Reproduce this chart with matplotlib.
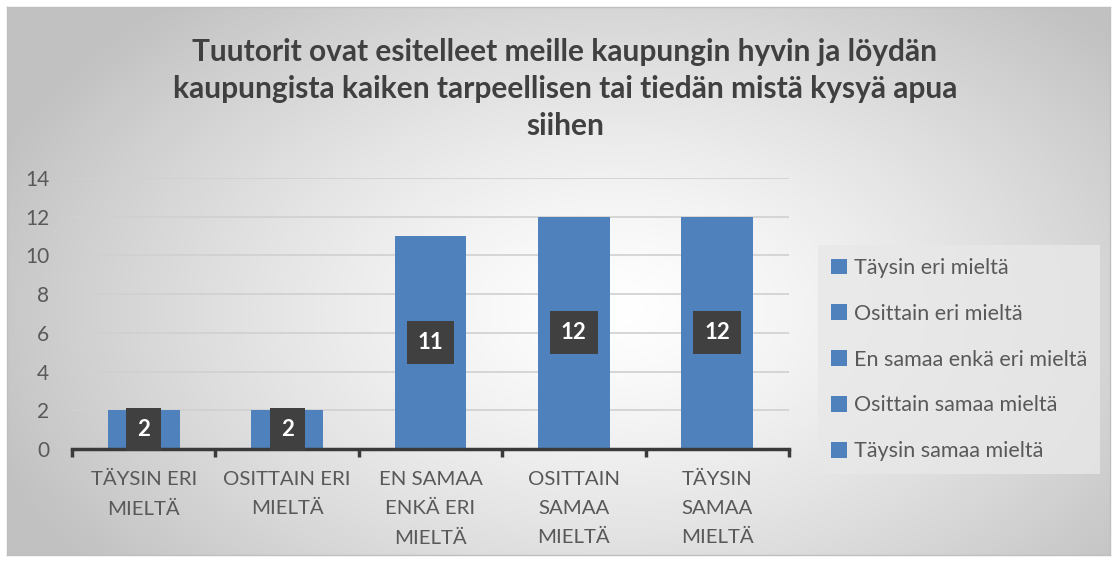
import numpy as np
import matplotlib.pyplot as plt
from matplotlib.patches import Patch

title = "Tuutorit ovat esitelleet meille kaupungin hyvin ja löydän\nkaupungista kaiken tarpeellisen tai tiedän mistä kysyä apua\nsiihen"
categories = ["TÄYSIN ERI\nMIELTÄ", "OSITTAIN ERI\nMIELTÄ", "EN SAMAA\nENKÄ ERI\nMIELTÄ",
              "OSITTAIN\nSAMAA\nMIELTÄ", "TÄYSIN\nSAMAA\nMIELTÄ"]
values = [2, 2, 11, 12, 12]
legend_labels = ["Täysin eri mieltä", "Osittain eri mieltä", "En samaa enkä eri mieltä",
                 "Osittain samaa mieltä", "Täysin samaa mieltä"]
yticks = [0, 2, 4, 6, 8, 10, 12, 14]

FONT = ["Lato", "DejaVu Sans"]
plt.rcParams['font.family'] = FONT
BAR = "#4F81BD"
TXT = "#595959"

W, H = 1118, 562
fig = plt.figure(figsize=(W / 100, H / 100), dpi=100)
fig.patch.set_facecolor("white")

# background radial gradient
bg = fig.add_axes([7 / W, 1 - 555 / H, (1110 - 7) / W, (555 - 7) / H])
ny, nx = 200, 400
yy, xx = np.mgrid[0:ny, 0:nx]
cx, cy = 0.55 * nx, 0.55 * ny
d = np.sqrt(((xx - cx) / (nx * 0.6)) ** 2 + ((yy - cy) / (ny * 0.75)) ** 2)
v = 1.0 - 0.24 * np.clip(d, 0, 1) ** 1.3
bg.imshow(np.dstack([v, v, v]), aspect="auto", extent=[0, 1, 0, 1], interpolation="bilinear")
bg.set_xticks([]); bg.set_yticks([])
for s in bg.spines.values():
    s.set_color("#bfbfbf"); s.set_linewidth(1)
bg.set_zorder(0)

ax = fig.add_axes([72 / W, 1 - 449 / H, (789 - 72) / W, (449 - 178) / H])
ax.set_zorder(1)
ax.patch.set_alpha(0)
x = np.arange(len(categories))
ax.bar(x, values, width=0.5, color=BAR, zorder=2)
ax.set_xlim(-0.5, len(categories) - 0.5)
ax.set_ylim(0, 14)
ax.set_yticks(yticks)
ax.set_yticklabels([str(t) for t in yticks], fontsize=15, color=TXT)
ax.yaxis.grid(True, color="#d0d0d0", linewidth=1.2, zorder=0)
ax.set_axisbelow(True)
ax.tick_params(axis="y", length=0, pad=16.5)
ax.set_xticks(x)
ax.set_xticklabels(categories, fontsize=14.7, color=TXT, linespacing=1.85)
ax.tick_params(axis="x", length=0, pad=16)
ax.set_xticks(np.arange(-0.5, len(categories)), minor=True)
ax.tick_params(axis="x", which="minor", length=6, width=2.5, color="#3a3a3a")
for s in ["top", "right", "left"]:
    ax.spines[s].set_visible(False)
ax.spines["bottom"].set_color("#3a3a3a")
ax.spines["bottom"].set_linewidth(2.5)

for xi, val in zip(x, values):
    ax.text(xi, val / 2, str(val), ha="center", va="center", fontsize=16, fontweight="bold",
            color="white", zorder=5,
            bbox=dict(boxstyle="square,pad=0.5", facecolor="#404040", edgecolor="none"))

fig.text(565 / W, 1 - 89 / H, title, ha="center", va="center", fontsize=21.5, fontweight="bold",
         color="#404040", linespacing=1.38)

handles = [Patch(facecolor=BAR, edgecolor="none") for _ in legend_labels]
leg = fig.legend(handles, legend_labels, loc="upper left",
                 bbox_to_anchor=(818 / W, 1 - 245 / H), frameon=True, fontsize=15.5,
                 handlelength=0.75, handleheight=0.75, handletextpad=0.3, labelspacing=1.2,
                 borderpad=0.6, borderaxespad=0, fancybox=False)
leg.get_frame().set_facecolor("#e8e8e8")
leg.get_frame().set_edgecolor("none")
leg.get_frame().set_alpha(0.8)
for t in leg.get_texts():
    t.set_color(TXT)

fig.savefig("out.png", dpi=100)
